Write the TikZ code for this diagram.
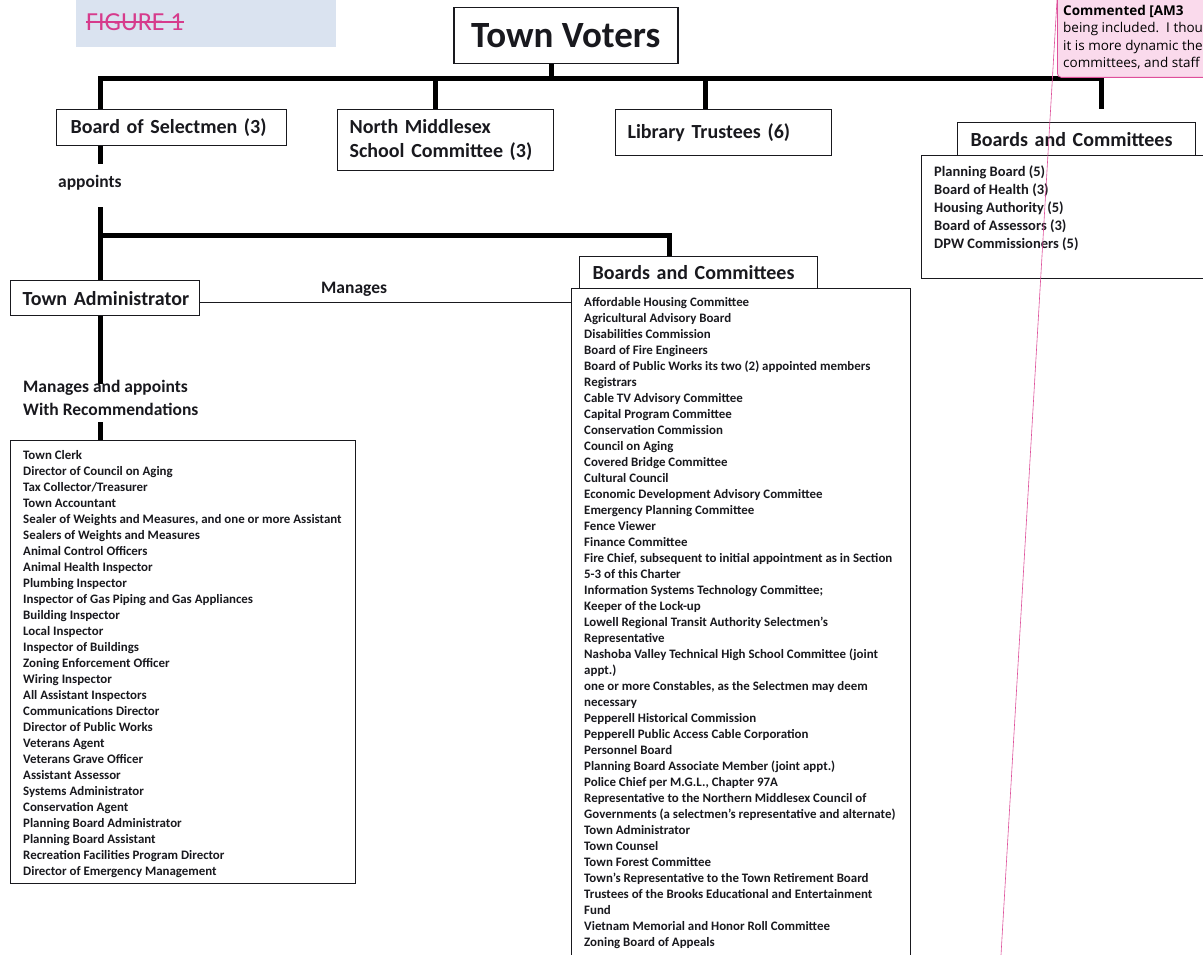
\documentclass[tikz,border=0pt]{standalone}
\usepackage{fontspec}
\setmainfont{Carlito}
\newfontfamily\notefont{Open Sans}
\usepackage{tikz}
\usetikzlibrary{positioning}
\definecolor{figblue}{RGB}{218,227,240}
\definecolor{figpink}{RGB}{214,59,140}
\definecolor{notefill}{RGB}{250,218,236}
\definecolor{noteline}{RGB}{222,80,155}
\definecolor{ink}{RGB}{25,25,30}

\begin{document}
\begin{tikzpicture}[x=1pt,y=1pt,yscale=-1,
        trunk/.style={line width=5pt},
        orgbox/.style={draw=ink, line width=1.2pt, anchor=north west, inner ysep=0pt},
        headfont/.style={font=\fontsize{20}{24}\selectfont\bfseries, text=ink},
        labelfont/.style={font=\fontsize{17.5}{23}\selectfont\bfseries, text=ink, inner sep=0pt},
        listfont/.style={font=\fontsize{12.9}{16}\selectfont\bfseries, text=ink, align=left, anchor=north west, inner sep=0pt}
    ]
        \fill[white] (0,0) rectangle (1203,955);
        \useasboundingbox (0,0) rectangle (1203,955);

        % Figure label
        \node[fill=figblue, anchor=north west, minimum width=260, minimum height=47, inner sep=0pt] (figbox) at (76,0) {};
        \node[anchor=west, inner sep=0pt, text=figpink, font=\fontsize{26}{30}\selectfont] (figtxt) at (86,22) {FIGURE 1};
        \draw[figpink, line width=1.2pt] (figtxt.west) -- (figtxt.east);

        % Top row
        \node[orgbox, font=\fontsize{37}{40}\selectfont\bfseries, text=ink, minimum width=224, minimum height=56, line width=1.5pt] (voters) at (453,7) {Town Voters};
        \node[orgbox, headfont, minimum height=36, text width=202, inner xsep=14, align=left] (selectmen) at (56,109) {Board of Selectmen (3)};
        \node[orgbox, headfont, minimum height=61, text width=192, inner xsep=12, align=left] (school) at (337,109) {North Middlesex\\School Committee (3)};
        \node[orgbox, headfont, minimum height=46, text width=192, inner xsep=12, align=left] (library) at (615,109) {Library Trustees (6)};
        \node[orgbox, headfont, minimum height=33, text width=212, inner xsep=13, align=left] (rhead) at (957,122) {Boards and Committees};
        \node[orgbox, minimum width=300, minimum height=123] (rlist) at (921,155) {};
        \node[listfont, font=\fontsize{14.5}{17.8}\selectfont\bfseries] (rlisttxt) at ([xshift=13, yshift=11]rlist.north west) {Planning Board (5)\\Board of Health (3)\\Housing Authority (5)\\Board of Assessors (3)\\DPW Commissioners (5)};

        % Voters tree
        \coordinate (barL) at (100,79);
        \coordinate (barR) at (1101,79);
        \draw[trunk] ([xshift=-14]voters.south) -- ([xshift=-14]voters.south |- barL);
        \draw[trunk] (barL |- selectmen.north) -- (barL) -- (barR) -- ++(0,30);
        \draw[trunk] ([xshift=98]school.north west) -- ++(0,-30);
        \draw[trunk] ([xshift=90]library.north west) -- ++(0,-30);

        % Selectmen appoint
        \draw[trunk] (barL |- selectmen.south) -- ++(0,18);
        \node[labelfont, anchor=west] (appoints) at (58,183) {appoints};

        \node[orgbox, headfont, minimum height=35, text width=165, inner xsep=12, align=left] (admin) at (10,280) {\mbox{Town Administrator}};
        \node[orgbox, headfont, minimum height=32, text width=212, inner xsep=13, align=left] (midhead) at (579,256) {Boards and Committees};
        \node[orgbox, minimum width=339, minimum height=700] (midlist) at (571,288) {};
        \node[orgbox, minimum width=345, minimum height=443] (leftlist) at (10,440) {};

        \coordinate (tierL) at (100,235);
        \draw[trunk] (admin.north -| tierL) -- ++(0,-73);
        \draw[trunk] (tierL) -| ([xshift=90]midhead.north west);

        % Manages line
        \draw[ink, line width=1pt] ([yshift=4]admin.east) -- ([yshift=4]admin.east -| midlist.west);
        \node[labelfont, anchor=west] (manages) at (321,289) {Manages};

        \draw[trunk] (admin.south -| tierL) -- ++(0,68);
        \node[labelfont, align=left, anchor=west] (recomm) at (23,398) {Manages and appoints\\With Recommendations};
        \draw[trunk] (leftlist.north -| tierL) -- ++(0,-18);

        % Staff list
        \node[listfont] (lefttxt) at ([xshift=13, yshift=10]leftlist.north west) {Town Clerk\\Director of Council on Aging\\Tax Collector/Treasurer\\Town Accountant\\Sealer of Weights and Measures, and one or more Assistant\\Sealers of Weights and Measures\\Animal Control Officers\\Animal Health Inspector\\Plumbing Inspector\\Inspector of Gas Piping and Gas Appliances\\Building Inspector\\Local Inspector\\Inspector of Buildings\\Zoning Enforcement Officer\\Wiring Inspector\\All Assistant Inspectors\\Communications Director\\Director of Public Works\\Veterans Agent\\Veterans Grave Officer\\Assistant Assessor\\Systems Administrator\\Conservation Agent\\Planning Board Administrator\\Planning Board Assistant\\Recreation Facilities Program Director\\Director of Emergency Management};

        % Boards list
        \node[listfont] (midtxt) at ([xshift=13, yshift=9]midlist.north west) {Affordable Housing Committee\\Agricultural Advisory Board\\Disabilities Commission\\Board of Fire Engineers\\Board of Public Works its two (2) appointed members\\Registrars\\Cable TV Advisory Committee\\Capital Program Committee\\Conservation Commission\\Council on Aging\\Covered Bridge Committee\\Cultural Council\\Economic Development Advisory Committee\\Emergency Planning Committee\\Fence Viewer\\Finance Committee\\Fire Chief, subsequent to initial appointment as in Section\\5-3 of this Charter\\Information Systems Technology Committee;\\Keeper of the Lock-up\\Lowell Regional Transit Authority Selectmen’s\\Representative\\Nashoba Valley Technical High School Committee (joint\\appt.)\\one or more Constables, as the Selectmen may deem\\necessary\\Pepperell Historical Commission\\Pepperell Public Access Cable Corporation\\Personnel Board\\Planning Board Associate Member (joint appt.)\\Police Chief per M.G.L., Chapter 97A\\Representative to the Northern Middlesex Council of\\Governments (a selectmen’s representative and alternate)\\Town Administrator\\Town Counsel\\Town Forest Committee\\Town’s Representative to the Town Retirement Board\\Trustees of the Brooks Educational and Entertainment\\Fund\\Vietnam Memorial and Honor Roll Committee\\Zoning Board of Appeals};

        % Comment balloon
        \node[draw=noteline, fill=notefill, rounded corners=4pt, line width=0.8pt, anchor=north west, minimum width=200, minimum height=87, inner sep=0pt] (note) at (1057,-10) {};
        \node[anchor=north west, inner sep=0pt, align=left, font=\notefont\fontsize{13.5}{17.5}\selectfont] (notetxt) at (1063,5) {\textbf{Commented [AM3}\\being included.\ \ I thou\\it is more dynamic the\\committees, and staff};
        \coordinate (markA) at (1057,0);
        \coordinate (markB) at (1001,955);
        \draw[noteline, line width=0.6pt] (markA) -- (markB);
\end{tikzpicture}
\end{document}
